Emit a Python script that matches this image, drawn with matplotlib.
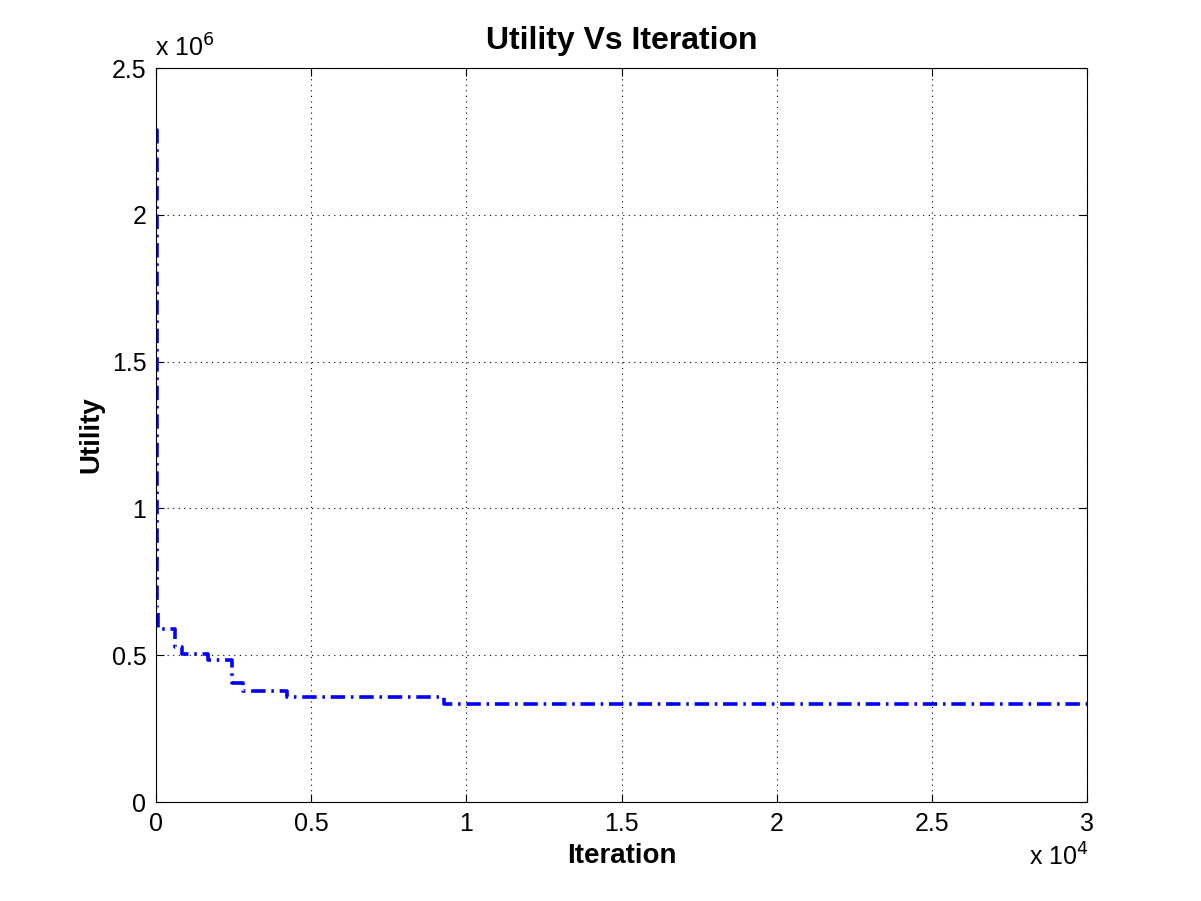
import matplotlib
matplotlib.use("Agg")
import matplotlib.pyplot as plt
from matplotlib.ticker import FuncFormatter

iterations = [0, 20, 40, 60, 610, 840, 1680, 2450, 2800, 4220, 9280, 30000]
utility = [2.29e6, 0.80e6, 0.66e6, 0.589e6, 0.528e6, 0.504e6, 0.484e6, 0.405e6,
           0.378e6, 0.358e6, 0.334e6, 0.334e6]
x_ticks = [0, 5000, 10000, 15000, 20000, 25000, 30000]
y_ticks = [0, 0.5e6, 1.0e6, 1.5e6, 2.0e6, 2.5e6]

plt.rcParams['font.family'] = ['Liberation Sans', 'DejaVu Sans']

fig = plt.figure(figsize=(12.01, 9.01), dpi=100)
ax = fig.add_axes([156/1201, 99/901, 931/1201, 734/901])

line, = ax.plot(iterations, utility, drawstyle='steps-post', color='#0000ff',
                linewidth=2.6, linestyle='-.')
line.set_dashes((4, 1.6, 0.7, 1.6))

ax.set_xlim(0, 30000)
ax.set_ylim(0, 2.5e6)
ax.set_xticks(x_ticks)
ax.set_yticks(y_ticks)
ax.xaxis.set_major_formatter(FuncFormatter(lambda v, p: f"{v/1e4:g}"))
ax.yaxis.set_major_formatter(FuncFormatter(lambda v, p: f"{v/1e6:g}"))
ax.tick_params(direction='in', length=6, width=0.8, labelsize=18, pad=7,
               top=True, right=True)
ax.grid(True, color='black', linestyle=(0, (1, 4)), linewidth=0.8)
for s in ax.spines.values():
    s.set_linewidth(0.8)

ax.set_title('Utility Vs Iteration', fontsize=23, fontweight='bold', pad=14)
ax.set_xlabel('Iteration', fontsize=20, fontweight='bold', labelpad=5)
ax.set_ylabel('Utility', fontsize=20, fontweight='bold', labelpad=5)

fig.text(155/1201, 1 - 57/901, r'x 10$^{6}$', fontsize=18, ha='left', va='baseline')
fig.text(1089/1201, 1 - 866/901, r'x 10$^{4}$', fontsize=18, ha='right', va='baseline')

fig.savefig('out.png', dpi=100)
